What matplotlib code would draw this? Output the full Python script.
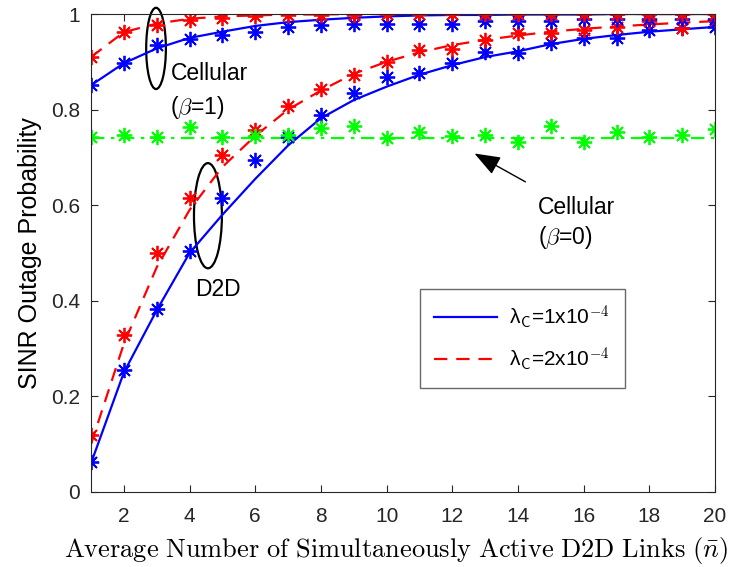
import numpy as np
import matplotlib.pyplot as plt
from matplotlib.patches import Ellipse

plt.rcParams['font.family'] = ['Liberation Sans', 'DejaVu Sans']
plt.rcParams['mathtext.fontset'] = 'cm'

# ось x: среднее число активных D2D линий
n = np.arange(1, 21)

# D2D, аналитика
d2d_l1 = [0.06, 0.25, 0.38, 0.50, 0.58, 0.655, 0.725, 0.782, 0.82, 0.848,
          0.873, 0.893, 0.91, 0.922, 0.937, 0.948, 0.956, 0.963, 0.968, 0.973]
d2d_l2 = [0.10, 0.31, 0.47, 0.59, 0.68, 0.745, 0.80, 0.84, 0.875, 0.90,
          0.92, 0.935, 0.946, 0.955, 0.963, 0.969, 0.974, 0.978, 0.982, 0.985]
# D2D, моделирование
d2d_s1 = [0.063, 0.255, 0.383, 0.504, 0.615, 0.695, 0.743, 0.789, 0.835, 0.868,
          0.877, 0.897, 0.921, 0.918, 0.939, 0.949, 0.949, 0.966, 0.97, 0.973]
d2d_s2 = [0.119, 0.328, 0.50, 0.615, 0.705, 0.757, 0.808, 0.843, 0.872, 0.90,
          0.925, 0.927, 0.946, 0.96, 0.96, 0.966, 0.973, 0.985, 0.97, 0.987]

# сотовая связь (beta=1)
cel_l1 = [0.851, 0.897, 0.928, 0.95, 0.963, 0.975, 0.983, 0.988, 0.992, 0.995,
          0.997, 0.998, 0.998, 0.999, 0.999, 0.999, 1.0, 1.0, 1.0, 1.0]
cel_l2 = [0.91, 0.962, 0.98, 0.99, 0.995, 0.997, 0.999, 0.999, 1.0, 1.0,
          1.0, 1.0, 1.0, 1.0, 1.0, 1.0, 1.0, 1.0, 1.0, 1.0]
cel_s1 = [0.851, 0.897, 0.935, 0.947, 0.956, 0.962, 0.972, 0.977, 0.98, 0.98,
          0.98, 0.98, 0.985, 0.985, 0.986, 0.99, 0.99, 0.99, 0.99, 0.99]
cel_s2 = [0.91, 0.962, 0.978, 0.988, 0.992, 0.995, 0.998, 0.998, 0.998, 0.999,
          0.999, 0.999, 0.999, 0.999, 0.999, 0.999, 0.999, 0.999, 0.999, 0.999]

# сотовая связь (beta=0)
cel0_line = 0.741
cel0_s = [0.743, 0.747, 0.743, 0.763, 0.743, 0.745, 0.747, 0.761, 0.766, 0.741,
          0.754, 0.745, 0.747, 0.733, 0.766, 0.733, 0.754, 0.743, 0.747, 0.759]

blue = (0, 0, 1)
red = (1, 0, 0)
green = (0, 1, 0)
star = (8, 2, 0)
ms = 11
fs = 16.5

fig = plt.figure(figsize=(7.38, 5.67), dpi=100)
ax = fig.add_axes([0.1233, 0.1323, 0.8457, 0.843])

# линии
h1, = ax.plot(n, d2d_l1, '-', color=blue, lw=1.6)
h2, = ax.plot(n, d2d_l2, '--', color=red, lw=1.6, dashes=(6, 4))
ax.plot(n, cel_l1, '-', color=blue, lw=1.6)
ax.plot(n, cel_l2, '--', color=red, lw=1.6, dashes=(6, 4))
ax.plot(n, [cel0_line] * len(n), '-.', color=green, lw=1.6, dashes=(6, 3, 1.5, 3))

# точки моделирования
for s, c in [(d2d_s1, blue), (d2d_s2, red), (cel_s1, blue), (cel_s2, red), (cel0_s, green)]:
    ax.plot(n, s, linestyle='none', marker=star, ms=ms, mec=c, mew=1.3, color=c)

# подписи и эллипсы
ax.add_patch(Ellipse((2.98, 0.928), 0.6, 0.17, fill=False, ec='k', lw=1.6, clip_on=False))
ax.text(3.42, 0.876, 'Cellular', fontsize=fs, va='center')
ax.text(3.4, 0.805, r'($\beta$=1)', fontsize=fs, va='center')
ax.add_patch(Ellipse((4.56, 0.578), 0.85, 0.22, fill=False, ec='k', lw=1.6))
ax.text(4.86, 0.423, 'D2D', fontsize=fs, va='center', ha='center')
ax.annotate('', xy=(12.6, 0.711), xytext=(14.3, 0.646),
            arrowprops=dict(arrowstyle='-|>,head_length=0.8,head_width=0.3',
                            color='k', lw=1, mutation_scale=20))
ax.text(14.6, 0.596, 'Cellular', fontsize=fs, va='center')
ax.text(14.6, 0.533, r'($\beta$=0)', fontsize=fs, va='center')

labels = [r'λ$_{\mathsf{C}}$=1x10$^{\mathsf{-4}}$', r'λ$_{\mathsf{C}}$=2x10$^{\mathsf{-4}}$']
leg = ax.legend([h1, h2], labels,
                loc='upper left', bbox_to_anchor=(0.51, 0.447), fontsize=15,
                frameon=True, fancybox=False, edgecolor='#444444', handlelength=3.0,
                borderpad=0.7, labelspacing=0.7, handletextpad=0.6)
leg.get_frame().set_linewidth(1.0)

ax.set_xlim(1, 20)
ax.set_ylim(0, 1)
ax.set_xticks(np.arange(2, 21, 2))
ax.set_yticks([0, 0.2, 0.4, 0.6, 0.8, 1])
ax.set_yticklabels(['0', '0.2', '0.4', '0.6', '0.8', '1'])
ax.tick_params(direction='in', top=True, right=True, labelsize=15, length=5, colors='#262626')
ax.tick_params(axis='x', pad=11)
ax.tick_params(axis='y', pad=8)
for sp in ax.spines.values():
    sp.set_color('#262626')
ax.set_ylabel('SINR Outage Probability', fontsize=18, labelpad=6)
ax.set_xlabel(r'$\mathrm{Average\ Number\ of\ Simultaneously\ Active\ D2D\ Links}\ (\bar{n})$',
              fontsize=19, labelpad=2)
ax.xaxis.set_label_coords(0.489, -0.09)

fig.savefig('out.png', dpi=100)
